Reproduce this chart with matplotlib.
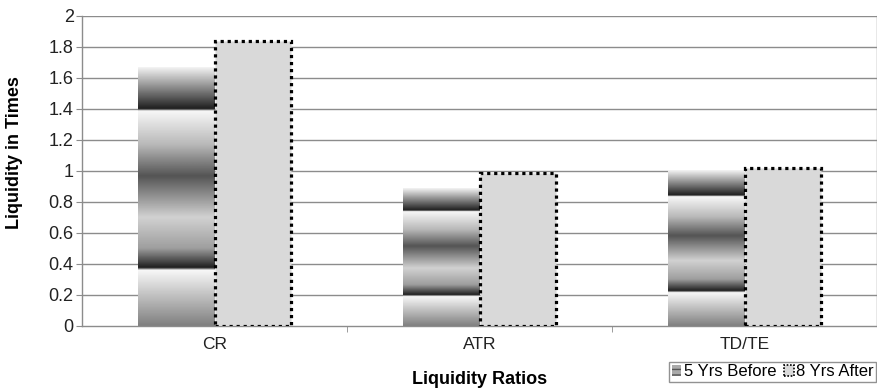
import numpy as np
import matplotlib.pyplot as plt
from matplotlib.patches import Patch

plt.rcParams['font.family'] = ['Liberation Sans', 'DejaVu Sans']

# --- data ---
ratios = ["CR", "ATR", "TD/TE"]
before_5yrs = [1.665, 0.89, 1.0]
after_8yrs = [1.84, 0.99, 1.02]
yticks = [0, 0.2, 0.4, 0.6, 0.8, 1, 1.2, 1.4, 1.6, 1.8, 2]

# banded grey fill used for the "before" bars (top -> bottom), style only
stop_pos = [0.0, 0.16, 0.168, 0.30, 0.42, 0.58, 0.70, 0.775, 0.785, 1.0]
stop_val = [0.95, 0.12, 0.97, 0.72, 0.33, 0.82, 0.62, 0.12, 0.97, 0.50]
t = np.linspace(0, 1, 300)
band = np.interp(t, stop_pos, stop_val).reshape(-1, 1)

fig = plt.figure(figsize=(8.78, 3.89), dpi=100)
ax = fig.add_axes([0.0934, 0.162, 0.9055, 0.797])

grid_c = "#8c8c8c"
for v in yticks[1:]:
    ax.axhline(v, color=grid_c, lw=1.0, zorder=0)

w = 0.287
x = np.arange(len(ratios))
for xi, h in zip(x, before_5yrs):
    ax.imshow(band, cmap="gray", vmin=0, vmax=1, aspect="auto",
              extent=(xi - w, xi, 0, h), interpolation="bilinear", zorder=2)

ax.bar(x + w / 2, after_8yrs, width=w, facecolor="#d9d9d9", edgecolor="black",
       linewidth=2.3, linestyle=(0, (1, 1.2)), zorder=3)

ax.set_xlim(-0.5, 2.5)
ax.set_ylim(0, 2)
ax.set_yticks(yticks)
ax.set_yticklabels([f"{v:g}" for v in yticks], fontsize=13, color="#222222")
ax.set_xticks(x)
ax.set_xticklabels(ratios, fontsize=12.5, color="#222222")
ax.set_xticks([0.5, 1.5], minor=True)
ax.tick_params(axis="x", which="major", length=0, pad=8)
ax.tick_params(axis="x", which="minor", length=4, color=grid_c, direction="out")
ax.tick_params(axis="y", length=4, color=grid_c, direction="out", pad=2)

for s in ax.spines.values():
    s.set_color(grid_c)
    s.set_linewidth(1.0)
ax.spines["top"].set_visible(False)

ax.set_ylabel("Liquidity in Times", fontsize=13, fontweight="bold")
ax.yaxis.set_label_coords(-0.074, 0.56)
ax.set_xlabel("Liquidity Ratios", fontsize=13, fontweight="bold")
ax.xaxis.set_label_coords(0.5, -0.145)

handles = [Patch(facecolor="#aaaaaa", edgecolor="#555555", hatch="---", lw=0),
           Patch(facecolor="#d9d9d9", edgecolor="black", linestyle=(0, (1, 1)), lw=1.2)]
leg = fig.legend(handles, ["5 Yrs Before", "8 Yrs After"], ncol=2, fontsize=12,
                 loc="lower right", bbox_to_anchor=(0.998, 0.018), frameon=True,
                 fancybox=False, edgecolor="#777777", handlelength=0.55,
                 handleheight=0.6, handletextpad=0.15, columnspacing=0.5,
                 borderpad=0.15, borderaxespad=0)
leg.get_frame().set_linewidth(1.0)

fig.savefig("out.png", dpi=100)
